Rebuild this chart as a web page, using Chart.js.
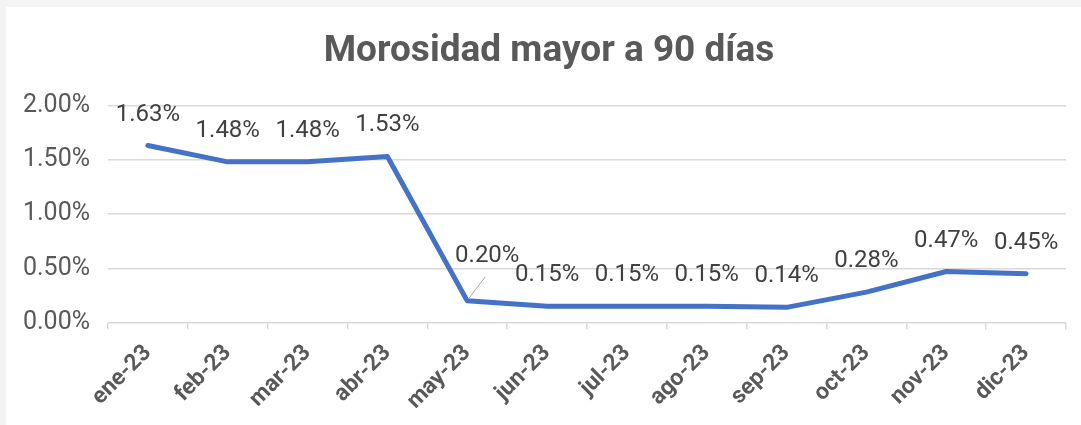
<!DOCTYPE html>
<html>
<head>
<meta charset="utf-8">
<script src="https://cdn.jsdelivr.net/npm/chart.js@4.4.1/dist/chart.umd.min.js"></script>
<style>
    html, body { margin: 0; padding: 0; background: #f4f4f4; }
    #wrap { position: absolute; left: 6px; top: 7px; width: 1075px; height: 418px; background: #fff; }
</style>
</head>
<body>
<div id="wrap"><canvas id="chart-moro"></canvas></div>
<script>
(function () {
    'use strict';

    /* --- Data --- */
    var months = ['ene-23', 'feb-23', 'mar-23', 'abr-23', 'may-23', 'jun-23',
                  'jul-23', 'ago-23', 'sep-23', 'oct-23', 'nov-23', 'dic-23'];
    var morosidad = [1.63, 1.48, 1.48, 1.53, 0.20, 0.15, 0.15, 0.15, 0.14, 0.28, 0.47, 0.45];
    var yTicks = [0, 0.5, 1.0, 1.5, 2.0];

    var blue = '#4472C4';
    var textGray = '#595959';
    var labelGray = '#404040';
    var gridGray = '#d9d9d9';

    Chart.defaults.font.family = "Roboto, 'Noto Sans', sans-serif";

    /* data labels drawn above each point; may-23 is pushed aside with a leader line */
    var valueLabels = {
        id: 'valueLabels',
        afterDatasetsDraw: function (chart) {
            var ctx = chart.ctx;
            var meta = chart.getDatasetMeta(0);
            var data = chart.data.datasets[0].data;
            ctx.save();
            ctx.font = '24px Roboto, sans-serif';
            ctx.fillStyle = labelGray;
            ctx.textAlign = 'center';
            ctx.textBaseline = 'middle';
            meta.data.forEach(function (pt, i) {
                var dx = 0, dy = -31;
                if (i === 4) {
                    dx = 20; dy = -45;
                    ctx.strokeStyle = '#a6a6a6';
                    ctx.lineWidth = 1;
                    ctx.beginPath();
                    ctx.moveTo(pt.x + 2, pt.y - 3);
                    ctx.lineTo(pt.x + 18, pt.y - 24);
                    ctx.stroke();
                }
                ctx.fillText(data[i].toFixed(2) + '%', pt.x + dx, pt.y + dy);
            });
            ctx.restore();
        }
    };

    new Chart(document.getElementById('chart-moro'), {
        type: 'line',
        data: {
            labels: months,
            datasets: [{
                label: 'Morosidad',
                data: morosidad,
                borderColor: blue,
                borderWidth: 5,
                pointRadius: 0,
                tension: 0,
                borderCapStyle: 'round',
                borderJoinStyle: 'round',
                fill: false
            }]
        },
        options: {
            responsive: true,
            maintainAspectRatio: false,
            animation: false,
            layout: { padding: { left: 11, right: 0, bottom: 0 } },
            plugins: {
                legend: { display: false },
                tooltip: { enabled: false },
                title: {
                    display: true,
                    text: 'Morosidad mayor a 90 días',
                    color: textGray,
                    font: { size: 37, weight: 'bold' },
                    padding: { top: 23, bottom: 31 }
                }
            },
            scales: {
                x: {
                    offset: true,
                    afterFit: function (scale) {
                        scale.paddingLeft = 0;
                        scale.paddingRight = 15;
                    },
                    grid: {
                        offset: true,
                        drawOnChartArea: false,
                        color: gridGray,
                        lineWidth: 1.5,
                        tickLength: 7
                    },
                    border: { display: false },
                    ticks: {
                        color: textGray,
                        font: { size: 23, weight: 'bold' },
                        maxRotation: 45,
                        minRotation: 45,
                        padding: 10
                    }
                },
                y: {
                    min: 0,
                    max: 2,
                    afterBuildTicks: function (axis) {
                        axis.ticks = yTicks.map(function (v) { return { value: v }; });
                    },
                    afterFit: function (scale) { scale.width = 91; },
                    grid: {
                        color: gridGray,
                        lineWidth: 1.5,
                        drawTicks: false
                    },
                    border: { display: false },
                    ticks: {
                        color: textGray,
                        font: { size: 25 },
                        padding: 18,
                        callback: function (v) { return v.toFixed(2) + '%'; }
                    }
                }
            }
        },
        plugins: [valueLabels]
    });
})();
</script>
</body>
</html>
